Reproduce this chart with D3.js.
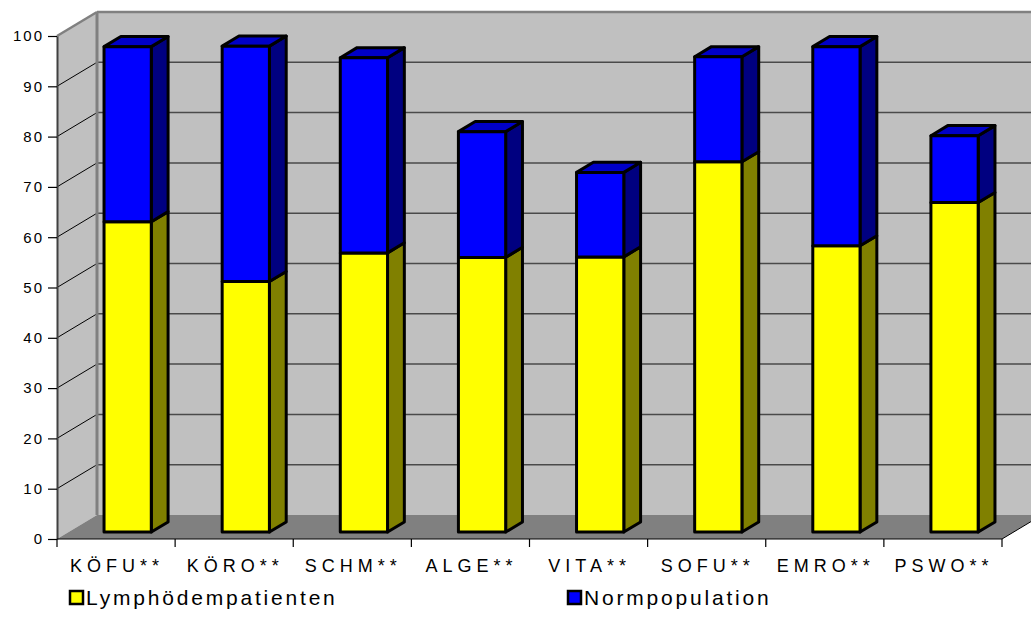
<!DOCTYPE html>
<html>
<head>
<meta charset="utf-8">
<script src="https://cdn.jsdelivr.net/npm/d3@7/dist/d3.min.js"></script>
<style>
  html, body { margin: 0; padding: 0; background: #fff; }
  svg { display: block; font-family: "Liberation Sans", Arial, sans-serif; }
</style>
</head>
<body>
<svg id="chart" width="1031" height="627"></svg>
<script>
// Scale names and scores
const categories = ["KÖFU**", "KÖRO**", "SCHM**", "ALGE**", "VITA**", "SOFU**", "EMRO**", "PSWO**"];
const lymphValues = [61.7, 49.8, 55.5, 54.6, 54.7, 73.6, 56.9, 65.5];
const normValues = [34.8, 46.8, 38.8, 25.0, 16.8, 20.9, 39.6, 13.3];
const seriesNames = ["Lymphödempatienten", "Normpopulation"];
const yTicks = [0, 10, 20, 30, 40, 50, 60, 70, 80, 90, 100];

const svg = d3.select("#chart");

// Front plane scales; depth is drawn as an oblique offset
const x = d3.scaleBand().domain(categories).range([57, 1002]).padding(0);
const y = d3.scaleLinear().domain([0, 100]).range([539, 36]);
const DX = 40, DY = 24;                 // full depth offset of the walls
const P = (px, v, z) => [px + z * DX, y(v) - z * DY];
const poly = pts => "M" + pts.map(p => p.join(",")).join("L") + "Z";

// Walls and floor
const xl = x.range()[0], xr = x.range()[1];
svg.append("path")
  .attr("d", poly([P(xl, 0, 0), P(xl, 100, 0), P(xl, 100, 1), P(xl, 0, 1)]))
  .attr("fill", "#c0c0c0");
svg.append("path")
  .attr("d", poly([P(xl, 0, 1), P(xl, 100, 1), P(xr + 60, 100, 1), P(xr + 60, 0, 1)]))
  .attr("fill", "#c0c0c0");
svg.append("path")
  .attr("d", poly([P(xl, 0, 0), P(xr, 0, 0), P(xr, 0, 1), P(xl, 0, 1)]))
  .attr("fill", "#808080");

// Gridlines on the back wall and the side wall
const grid = yTicks.filter(v => v > 0);
svg.append("g").selectAll("line").data(grid).join("line")
  .attr("x1", P(xl, 0, 1)[0]).attr("x2", 1031)
  .attr("y1", v => P(xl, v, 1)[1]).attr("y2", v => P(xl, v, 1)[1])
  .attr("stroke", v => v === 100 ? "#808080" : "#4a4a4a")
  .attr("stroke-width", v => v === 100 ? 2.5 : 1.5);
svg.append("g").selectAll("line").data(grid).join("line")
  .attr("x1", v => P(xl, v, 0)[0]).attr("y1", v => P(xl, v, 0)[1])
  .attr("x2", v => P(xl, v, 1)[0]).attr("y2", v => P(xl, v, 1)[1])
  .attr("stroke", v => v === 100 ? "#808080" : "#000")
  .attr("stroke-width", v => v === 100 ? 2.5 : 1);
// wall edge
svg.append("line")
  .attr("x1", P(xl, 0, 1)[0]).attr("y1", P(xl, 0, 1)[1])
  .attr("x2", P(xl, 100, 1)[0]).attr("y2", P(xl, 100, 1)[1])
  .attr("stroke", "#808080").attr("stroke-width", 3);
// right floor edge
svg.append("line")
  .attr("x1", P(xr, 0, 0)[0]).attr("y1", P(xr, 0, 0)[1])
  .attr("x2", P(xr, 0, 1)[0]).attr("y2", P(xr, 0, 1)[1])
  .attr("stroke", "#000").attr("stroke-width", 1);

// Stacked 3D columns
const Z0 = 0.29, Z1 = 0.71;
const stack = d3.stack().keys(["lymph", "norm"])(
  categories.map((c, i) => ({ cat: c, lymph: lymphValues[i], norm: normValues[i] }))
);
const colors = {
  lymph: { front: "#ffff00", side: "#808000", top: "#c0c000" },
  norm:  { front: "#0000ff", side: "#000080", top: "#0000c8" }
};
const barG = svg.append("g");
categories.forEach((c, i) => {
  const bl = x(c) + x.bandwidth() * 0.3;
  const br = x(c) + x.bandwidth() * 0.7;
  stack.forEach((layer, li) => {
    const [v0, v1] = layer[i];
    const col = colors[layer.key];
    const g = barG.append("g")
      .attr("stroke", "#000").attr("stroke-width", 3).attr("stroke-linejoin", "round");
    g.append("path").attr("fill", col.side)
      .attr("d", poly([P(br, v0, Z0), P(br, v0, Z1), P(br, v1, Z1), P(br, v1, Z0)]));
    if (li === stack.length - 1) {
      g.append("path").attr("fill", col.top)
        .attr("d", poly([P(bl, v1, Z0), P(br, v1, Z0), P(br, v1, Z1), P(bl, v1, Z1)]));
    }
    g.append("path").attr("fill", col.front)
      .attr("d", poly([P(bl, v0, Z0), P(br, v0, Z0), P(br, v1, Z0), P(bl, v1, Z0)]));
  });
});

// Value axis
const yAxis = svg.append("g")
  .attr("transform", `translate(${xl},0)`)
  .call(d3.axisLeft(y).tickValues(yTicks).tickSize(9).tickSizeOuter(0).tickPadding(4));
yAxis.select(".domain").attr("stroke", "#404040").attr("stroke-width", 2);
yAxis.selectAll(".tick line").attr("stroke", "#000").attr("stroke-width", 1.2);
yAxis.selectAll(".tick text")
  .attr("font-size", 15).attr("fill", "#000")
  .attr("font-family", "Liberation Sans, Arial, sans-serif")
  .style("letter-spacing", "2px");

// Category axis
svg.append("line")
  .attr("x1", xl).attr("x2", xr).attr("y1", y(0)).attr("y2", y(0))
  .attr("stroke", "#000").attr("stroke-width", 1.2);
const bounds = categories.map(c => x(c)).concat([xr]);
svg.append("g").selectAll("line").data(bounds).join("line")
  .attr("x1", d => d).attr("x2", d => d)
  .attr("y1", y(0)).attr("y2", y(0) + 8)
  .attr("stroke", "#000").attr("stroke-width", 1.2);
svg.append("g").selectAll("text").data(categories).join("text")
  .attr("x", d => x(d) + x.bandwidth() / 2 + 1)
  .attr("y", 572)
  .attr("text-anchor", "middle")
  .attr("font-size", 18)
  .style("letter-spacing", "5px")
  .text(d => d);

// Legend
const legend = [
  { name: seriesNames[0], color: colors.lymph.front, x: 70 },
  { name: seriesNames[1], color: colors.norm.front, x: 568 }
];
const lg = svg.append("g").selectAll("g").data(legend).join("g")
  .attr("transform", d => `translate(${d.x},591)`);
lg.append("rect").attr("width", 13).attr("height", 13)
  .attr("fill", d => d.color).attr("stroke", "#000").attr("stroke-width", 2.5);
lg.append("text").attr("x", 16).attr("y", 14)
  .attr("font-size", 21)
  .style("letter-spacing", "2.8px")
  .text(d => d.name);
</script>
</body>
</html>
